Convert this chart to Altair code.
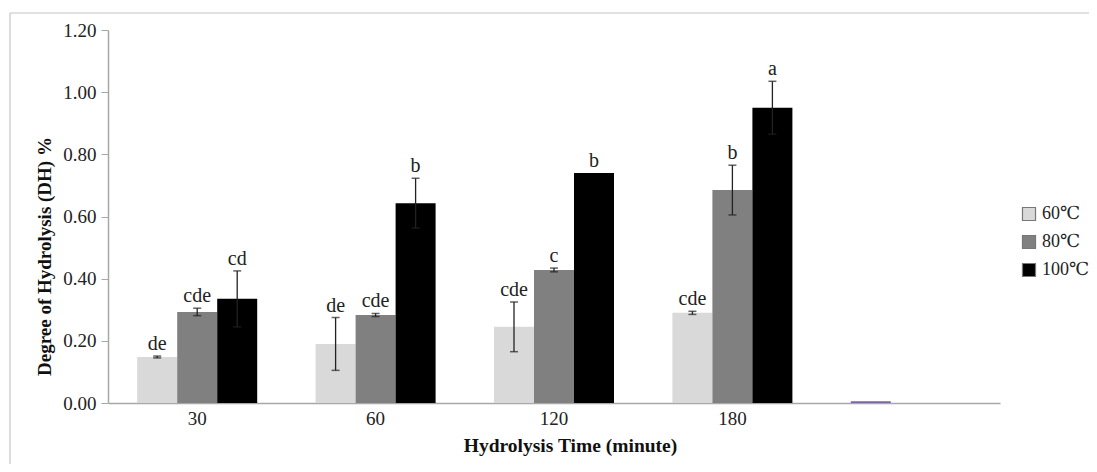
import altair as alt
import pandas as pd

times = ["30", "60", "120", "180"]
temps = ["60℃", "80℃", "100℃"]
values = {
    "60℃": [0.148, 0.190, 0.245, 0.290],
    "80℃": [0.293, 0.283, 0.428, 0.685],
    "100℃": [0.335, 0.643, 0.740, 0.950],
}
errors = {
    "60℃": [0.003, 0.085, 0.080, 0.005],
    "80℃": [0.012, 0.005, 0.006, 0.080],
    "100℃": [0.090, 0.080, 0.000, 0.085],
}
letters = {
    "60℃": ["de", "de", "cde", "cde"],
    "80℃": ["cde", "cde", "c", "b"],
    "100℃": ["cd", "b", "b", "a"],
}
colors = ["#d9d9d9", "#808080", "#000000"]
x_domain = times + [" "]

# stray near-zero point in the empty fifth slot (purple in the source)
stray_time = [" "]
stray_temp = ["60℃"]
stray_value = [0.006]

rows = []
for t in temps:
    for i, tm in enumerate(times):
        v = values[t][i]
        e = errors[t][i]
        rows.append({"time": tm, "temp": t, "value": v, "err": e,
                     "lo": v - e, "hi": v + e, "label": letters[t][i]})
df = pd.DataFrame(rows)
stray_df = pd.DataFrame({"time": stray_time, "temp": stray_temp, "value": stray_value})

serif = "Liberation Serif, DejaVu Serif, serif"

x_enc = alt.X("time:N", sort=x_domain,
              scale=alt.Scale(domain=x_domain, paddingInner=0, paddingOuter=0),
              axis=alt.Axis(title="Hydrolysis Time (minute)", labelAngle=0, ticks=False,
                            domainColor="#a8a8a8", domainWidth=1.5, labelFont=serif, labelFontSize=19,
                            labelColor="#222", titleFont=serif, titleFontSize=19.5,
                            titleFontWeight="bold", titleColor="#111", labelPadding=6,
                            titlePadding=8, titleX=462))
xo = alt.XOffset("temp:N", sort=temps,
                 scale=alt.Scale(domain=temps, paddingOuter=0.73, paddingInner=0))
y_scale = alt.Scale(domain=[0, 1.2])

base = alt.Chart(df)

bars = base.mark_bar().encode(
    x=x_enc,
    xOffset=xo,
    y=alt.Y("value:Q", scale=y_scale,
            axis=alt.Axis(title="Degree of Hydrolysis (DH) %", values=[0, 0.2, 0.4, 0.6, 0.8, 1.0, 1.2],
                          format=".2f", grid=False, domainColor="#a8a8a8", domainWidth=1.5,
                          tickColor="#a8a8a8", tickSize=7, labelFont=serif, labelFontSize=19,
                          labelColor="#222", titleFont=serif, titleFontSize=19,
                          titleFontWeight="bold", titleColor="#111", labelPadding=5,
                          titlePadding=8, titleY=226)),
    color=alt.Color("temp:N", sort=temps,
                    scale=alt.Scale(domain=temps, range=colors),
                    legend=alt.Legend(title=None, orient="none", legendX=912, legendY=175,
                                      symbolType="square", symbolSize=170,
                                      symbolStrokeColor="#777", symbolStrokeWidth=1.2,
                                      labelFont=serif, labelFontSize=18, labelColor="#222",
                                      rowPadding=10)),
)

stray = alt.Chart(stray_df).mark_bar(color="#8064a2").encode(
    x=alt.X("time:N", sort=x_domain),
    xOffset=alt.XOffset("temp:N", sort=temps),
    y=alt.Y("value:Q", scale=y_scale))

err = base.transform_filter("datum.err > 0").mark_rule(color="#222", strokeWidth=1.3).encode(
    x=alt.X("time:N", sort=x_domain), xOffset=xo,
    y=alt.Y("lo:Q", scale=y_scale), y2="hi:Q")

cap_hi = base.transform_filter("datum.err > 0").mark_tick(color="#222", size=8, thickness=1.5,
                                                           orient="horizontal").encode(
    x=alt.X("time:N", sort=x_domain), xOffset=xo, y=alt.Y("hi:Q", scale=y_scale))
cap_lo = base.transform_filter("datum.err > 0").mark_tick(color="#222", size=8, thickness=1.5,
                                                           orient="horizontal").encode(
    x=alt.X("time:N", sort=x_domain), xOffset=xo, y=alt.Y("lo:Q", scale=y_scale))

text = base.mark_text(font=serif, fontSize=20, baseline="bottom", dy=-2, color="#222").encode(
    x=alt.X("time:N", sort=x_domain), xOffset=xo,
    y=alt.Y("hi:Q", scale=y_scale), text="label:N")

# decorative page frame (top and left edges) around the figure
frame_df = pd.DataFrame({"f": [0]})
frame_top = alt.Chart(frame_df).mark_rule(stroke="#c4c4c4", strokeWidth=1.2, clip=False).encode(
    x=alt.value(-98), x2=alt.value(1200), y=alt.value(-17))
frame_left = alt.Chart(frame_df).mark_rule(stroke="#c4c4c4", strokeWidth=1.2, clip=False).encode(
    x=alt.value(-98), y=alt.value(-17), y2=alt.value(600))

chart = alt.layer(frame_top, frame_left, bars, stray, err, cap_hi, cap_lo, text).properties(
    width=892, height=373,
    autosize=alt.AutoSizeParams(type="none"),
    padding={"left": 100, "top": 22, "right": 89, "bottom": 61},
    background="white",
).configure_view(stroke=None)

chart.save("out.html", embed_options={"renderer": "svg", "actions": False})
